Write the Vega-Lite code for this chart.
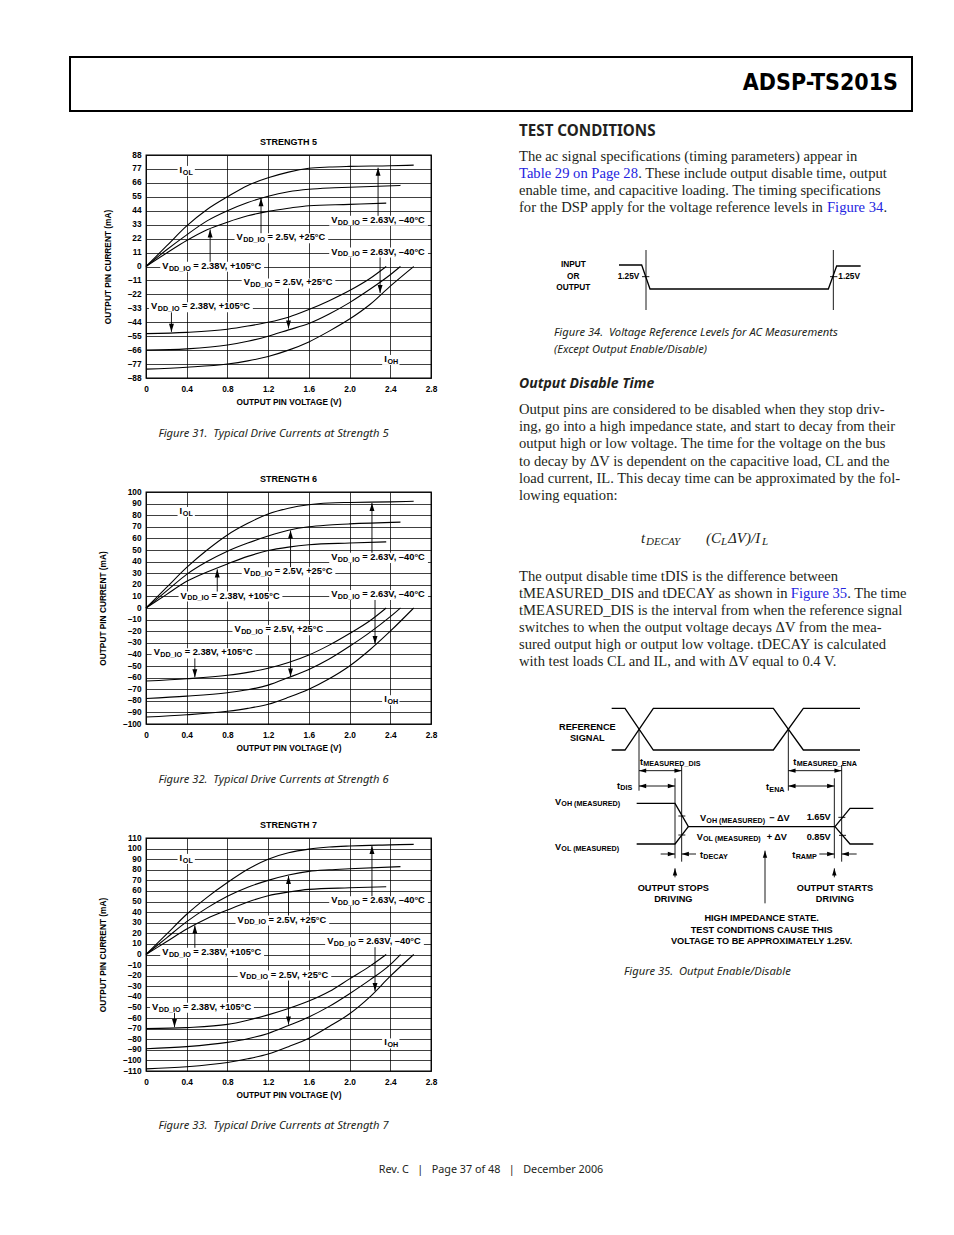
{
"$schema": "https://vega.github.io/schema/vega-lite/v6.json",
"padding": 0,
"background": "#ffffff",
"spacing": 0,
"bounds": "full",
"config": {
  "view": {"stroke": null},
  "font": "Liberation Sans",
  "axis": {"domain": false, "ticks": false, "tickCount": 40, "gridColor": "#000", "gridWidth": 0.75, "gridOpacity": 1, "labelFontSize": 8.3, "labelFontWeight": "bold", "labelColor": "#000", "titleFontSize": 8.3, "titleFontWeight": "bold", "titleColor": "#000", "labelFlush": false, "labelOverlap": false},
  "axisX": {"grid": true, "labelPadding": 6, "titlePadding": 5},
  "axisY": {"grid": true, "labelPadding": 5, "titlePadding": 15},
  "title": {"fontSize": 9, "fontWeight": "bold", "color": "#000", "offset": 3},
  "text": {"color": "#231f20"}
},
"datasets": {
  "c1": [
    {"s":"a","v":0,"i":0},{"s":"a","v":0.2,"i":16},{"s":"a","v":0.4,"i":32},{"s":"a","v":0.6,"i":45},{"s":"a","v":0.8,"i":55},{"s":"a","v":1.0,"i":64},{"s":"a","v":1.2,"i":70},{"s":"a","v":1.4,"i":74.5},{"s":"a","v":1.6,"i":77.5},{"s":"a","v":1.8,"i":78.5},{"s":"a","v":2.0,"i":79},{"s":"a","v":2.4,"i":79.5},{"s":"a","v":2.63,"i":80},
    {"s":"b","v":0,"i":0},{"s":"b","v":0.2,"i":13},{"s":"b","v":0.4,"i":25},{"s":"b","v":0.6,"i":36},{"s":"b","v":0.8,"i":44},{"s":"b","v":1.0,"i":50.5},{"s":"b","v":1.2,"i":55.5},{"s":"b","v":1.4,"i":59},{"s":"b","v":1.6,"i":61},{"s":"b","v":1.8,"i":62},{"s":"b","v":2.0,"i":62.5},{"s":"b","v":2.5,"i":64},
    {"s":"c","v":0,"i":0},{"s":"c","v":0.2,"i":10.5},{"s":"c","v":0.4,"i":20.5},{"s":"c","v":0.6,"i":29},{"s":"c","v":0.8,"i":35},{"s":"c","v":1.0,"i":40},{"s":"c","v":1.2,"i":43.5},{"s":"c","v":1.4,"i":46},{"s":"c","v":1.6,"i":48},{"s":"c","v":2.0,"i":49},{"s":"c","v":2.36,"i":50},
    {"s":"d","v":0,"i":-53},{"s":"d","v":0.4,"i":-52},{"s":"d","v":0.8,"i":-49.5},{"s":"d","v":1.0,"i":-47},{"s":"d","v":1.2,"i":-44},{"s":"d","v":1.4,"i":-40},{"s":"d","v":1.6,"i":-34},{"s":"d","v":1.8,"i":-27},{"s":"d","v":2.0,"i":-19},{"s":"d","v":2.2,"i":-9.5},{"s":"d","v":2.36,"i":0},
    {"s":"e","v":0,"i":-66},{"s":"e","v":0.4,"i":-65},{"s":"e","v":0.8,"i":-62},{"s":"e","v":1.0,"i":-59},{"s":"e","v":1.2,"i":-55},{"s":"e","v":1.4,"i":-50},{"s":"e","v":1.6,"i":-45},{"s":"e","v":1.8,"i":-37.5},{"s":"e","v":2.0,"i":-28.5},{"s":"e","v":2.2,"i":-18},{"s":"e","v":2.4,"i":-6.5},{"s":"e","v":2.5,"i":0},
    {"s":"f","v":0,"i":-81},{"s":"f","v":0.4,"i":-79.5},{"s":"f","v":0.8,"i":-77},{"s":"f","v":1.0,"i":-74.5},{"s":"f","v":1.2,"i":-71},{"s":"f","v":1.4,"i":-66},{"s":"f","v":1.6,"i":-59.5},{"s":"f","v":1.8,"i":-51},{"s":"f","v":2.0,"i":-41.5},{"s":"f","v":2.2,"i":-30},{"s":"f","v":2.4,"i":-15.5},{"s":"f","v":2.63,"i":0}
  ],
  "l1": [
    {"k":"V","sub":"DD_IO","tail":"= 2.63V, –40°C","v":1.82,"i":36.8,"b1":1.8,"b2":2.77,"lo":32.1,"hi":40.0},
    {"k":"V","sub":"DD_IO","tail":"= 2.5V, +25°C","v":0.89,"i":23.1,"b1":0.87,"b2":1.79,"lo":18.4,"hi":26.3},
    {"k":"V","sub":"DD_IO","tail":"= 2.63V, –40°C","v":1.82,"i":11.8,"b1":1.8,"b2":2.77,"lo":7.1,"hi":15.0},
    {"k":"V","sub":"DD_IO","tail":"= 2.38V, +105°C","v":0.16,"i":0.5,"b1":0.14,"b2":1.16,"lo":-4.2,"hi":3.7},
    {"k":"V","sub":"DD_IO","tail":"= 2.5V, +25°C","v":0.96,"i":-12.6,"b1":0.94,"b2":1.86,"lo":-17.3,"hi":-9.4},
    {"k":"V","sub":"DD_IO","tail":"= 2.38V, +105°C","v":0.05,"i":-31.5,"b1":0.03,"b2":1.05,"lo":-36.2,"hi":-28.3},
    {"k":"I","sub":"OL","tail":"","v":0.33,"i":76.2,"b1":0.31,"b2":0.48,"lo":71.5,"hi":79.4},
    {"k":"I","sub":"OH","tail":"","v":2.34,"i":-73,"b1":2.32,"b2":2.49,"lo":-77.7,"hi":-69.8}
  ],
  "a1": [
    {"v":2.28,"i":40.0,"i2":78,"dir":"up"},{"v":1.13,"i":26.3,"i2":54,"dir":"up"},{"v":0.63,"i":3.7,"i2":29.3,"dir":"up"},
    {"v":2.3,"i":7.1,"i2":-21,"dir":"down"},{"v":1.4,"i":-17.3,"i2":-49,"dir":"down"},{"v":0.25,"i":-36.2,"i2":-51.6,"dir":"down"}
  ],
  "c2": [
    {"s":"a","v":0,"i":0},{"s":"a","v":0.2,"i":17.5},{"s":"a","v":0.4,"i":35},{"s":"a","v":0.6,"i":50},{"s":"a","v":0.8,"i":63},{"s":"a","v":1.0,"i":73},{"s":"a","v":1.2,"i":81},{"s":"a","v":1.4,"i":86},{"s":"a","v":1.6,"i":89},{"s":"a","v":1.8,"i":90.5},{"s":"a","v":2.0,"i":91},{"s":"a","v":2.4,"i":91.5},{"s":"a","v":2.63,"i":92},
    {"s":"b","v":0,"i":0},{"s":"b","v":0.2,"i":14.5},{"s":"b","v":0.4,"i":29},{"s":"b","v":0.6,"i":40},{"s":"b","v":0.8,"i":49},{"s":"b","v":1.0,"i":56},{"s":"b","v":1.2,"i":62},{"s":"b","v":1.4,"i":67},{"s":"b","v":1.6,"i":70},{"s":"b","v":1.8,"i":71.5},{"s":"b","v":2.0,"i":72.5},{"s":"b","v":2.5,"i":74},
    {"s":"c","v":0,"i":0},{"s":"c","v":0.2,"i":11.5},{"s":"c","v":0.4,"i":23},{"s":"c","v":0.6,"i":31},{"s":"c","v":0.8,"i":38},{"s":"c","v":1.0,"i":44.5},{"s":"c","v":1.2,"i":49.5},{"s":"c","v":1.4,"i":52.5},{"s":"c","v":1.6,"i":54.5},{"s":"c","v":2.0,"i":56},{"s":"c","v":2.36,"i":57},
    {"s":"d","v":0,"i":-63},{"s":"d","v":0.4,"i":-61},{"s":"d","v":0.8,"i":-58},{"s":"d","v":1.0,"i":-55.5},{"s":"d","v":1.2,"i":-52},{"s":"d","v":1.4,"i":-47},{"s":"d","v":1.6,"i":-40.5},{"s":"d","v":1.8,"i":-32},{"s":"d","v":2.0,"i":-22},{"s":"d","v":2.2,"i":-11},{"s":"d","v":2.36,"i":0},
    {"s":"e","v":0,"i":-78},{"s":"e","v":0.4,"i":-76},{"s":"e","v":0.8,"i":-73},{"s":"e","v":1.0,"i":-70.5},{"s":"e","v":1.2,"i":-66.5},{"s":"e","v":1.4,"i":-60},{"s":"e","v":1.6,"i":-53},{"s":"e","v":1.8,"i":-44},{"s":"e","v":2.0,"i":-33},{"s":"e","v":2.2,"i":-21},{"s":"e","v":2.4,"i":-7.5},{"s":"e","v":2.5,"i":0},
    {"s":"f","v":0,"i":-94},{"s":"f","v":0.4,"i":-92},{"s":"f","v":0.8,"i":-89},{"s":"f","v":1.0,"i":-86.5},{"s":"f","v":1.2,"i":-83},{"s":"f","v":1.4,"i":-77},{"s":"f","v":1.6,"i":-70},{"s":"f","v":1.8,"i":-61},{"s":"f","v":2.0,"i":-50},{"s":"f","v":2.2,"i":-36},{"s":"f","v":2.4,"i":-20},{"s":"f","v":2.63,"i":0}
  ],
  "l2": [
    {"k":"V","sub":"DD_IO","tail":"= 2.63V, –40°C","v":1.82,"i":44.1,"b1":1.8,"b2":2.77,"lo":38.9,"hi":47.6},
    {"k":"V","sub":"DD_IO","tail":"= 2.5V, +25°C","v":0.96,"i":31.7,"b1":0.94,"b2":1.86,"lo":26.5,"hi":35.2},
    {"k":"V","sub":"DD_IO","tail":"= 2.38V, +105°C","v":0.34,"i":10.7,"b1":0.32,"b2":1.34,"lo":5.5,"hi":14.2},
    {"k":"V","sub":"DD_IO","tail":"= 2.63V, –40°C","v":1.82,"i":12.1,"b1":1.8,"b2":2.77,"lo":6.9,"hi":15.6},
    {"k":"V","sub":"DD_IO","tail":"= 2.5V, +25°C","v":0.87,"i":-18.2,"b1":0.85,"b2":1.77,"lo":-23.4,"hi":-14.7},
    {"k":"V","sub":"DD_IO","tail":"= 2.38V, +105°C","v":0.075,"i":-38.3,"b1":0.055,"b2":1.075,"lo":-43.5,"hi":-34.8},
    {"k":"I","sub":"OL","tail":"","v":0.33,"i":83.6,"b1":0.31,"b2":0.48,"lo":78.4,"hi":87.1},
    {"k":"I","sub":"OH","tail":"","v":2.34,"i":-78.7,"b1":2.32,"b2":2.49,"lo":-83.9,"hi":-75.2}
  ],
  "a2": [
    {"v":2.22,"i":47.6,"i2":90.5,"dir":"up"},{"v":1.42,"i":35.2,"i2":66.8,"dir":"up"},{"v":0.7,"i":14.2,"i2":33.3,"dir":"up"},
    {"v":2.25,"i":6.9,"i2":-31,"dir":"down"},{"v":1.42,"i":-23.4,"i2":-59,"dir":"down"},{"v":0.48,"i":-43.5,"i2":-59.8,"dir":"down"}
  ],
  "c3": [
    {"s":"a","v":0,"i":0},{"s":"a","v":0.2,"i":19},{"s":"a","v":0.4,"i":38},{"s":"a","v":0.6,"i":54},{"s":"a","v":0.8,"i":68},{"s":"a","v":1.0,"i":80.5},{"s":"a","v":1.2,"i":90},{"s":"a","v":1.4,"i":96},{"s":"a","v":1.6,"i":99.5},{"s":"a","v":1.8,"i":101.5},{"s":"a","v":2.0,"i":102.5},{"s":"a","v":2.4,"i":103.5},{"s":"a","v":2.63,"i":104},
    {"s":"b","v":0,"i":0},{"s":"b","v":0.2,"i":15.5},{"s":"b","v":0.4,"i":31},{"s":"b","v":0.6,"i":44},{"s":"b","v":0.8,"i":55},{"s":"b","v":1.0,"i":63.5},{"s":"b","v":1.2,"i":70},{"s":"b","v":1.4,"i":75},{"s":"b","v":1.6,"i":78.5},{"s":"b","v":1.8,"i":80},{"s":"b","v":2.0,"i":81},{"s":"b","v":2.5,"i":83},
    {"s":"c","v":0,"i":0},{"s":"c","v":0.2,"i":12},{"s":"c","v":0.4,"i":24},{"s":"c","v":0.6,"i":34},{"s":"c","v":0.8,"i":42},{"s":"c","v":1.0,"i":49.5},{"s":"c","v":1.2,"i":55.5},{"s":"c","v":1.4,"i":59},{"s":"c","v":1.6,"i":61.5},{"s":"c","v":2.0,"i":63},{"s":"c","v":2.36,"i":64},
    {"s":"d","v":0,"i":-70},{"s":"d","v":0.4,"i":-69},{"s":"d","v":0.8,"i":-66},{"s":"d","v":1.0,"i":-62},{"s":"d","v":1.2,"i":-57},{"s":"d","v":1.4,"i":-51},{"s":"d","v":1.6,"i":-44},{"s":"d","v":1.8,"i":-35},{"s":"d","v":2.0,"i":-23},{"s":"d","v":2.2,"i":-11},{"s":"d","v":2.36,"i":0},
    {"s":"e","v":0,"i":-89},{"s":"e","v":0.4,"i":-87},{"s":"e","v":0.8,"i":-83},{"s":"e","v":1.0,"i":-79.5},{"s":"e","v":1.2,"i":-74.5},{"s":"e","v":1.4,"i":-67},{"s":"e","v":1.6,"i":-59},{"s":"e","v":1.8,"i":-49},{"s":"e","v":2.0,"i":-37},{"s":"e","v":2.2,"i":-24},{"s":"e","v":2.4,"i":-9.5},{"s":"e","v":2.5,"i":0},
    {"s":"f","v":0,"i":-108},{"s":"f","v":0.4,"i":-106},{"s":"f","v":0.8,"i":-102},{"s":"f","v":1.0,"i":-98.5},{"s":"f","v":1.2,"i":-94},{"s":"f","v":1.4,"i":-87},{"s":"f","v":1.6,"i":-79},{"s":"f","v":1.8,"i":-68},{"s":"f","v":2.0,"i":-56},{"s":"f","v":2.2,"i":-40},{"s":"f","v":2.4,"i":-20.5},{"s":"f","v":2.63,"i":0}
  ],
  "l3": [
    {"k":"V","sub":"DD_IO","tail":"= 2.63V, –40°C","v":1.82,"i":51.3,"b1":1.8,"b2":2.77,"lo":45.6,"hi":55.1},
    {"k":"V","sub":"DD_IO","tail":"= 2.5V, +25°C","v":0.9,"i":33,"b1":0.88,"b2":1.8,"lo":27.3,"hi":36.8},
    {"k":"V","sub":"DD_IO","tail":"= 2.63V, –40°C","v":1.78,"i":12.6,"b1":1.76,"b2":2.73,"lo":6.9,"hi":16.4},
    {"k":"V","sub":"DD_IO","tail":"= 2.38V, +105°C","v":0.16,"i":2.5,"b1":0.14,"b2":1.16,"lo":-3.2,"hi":6.3},
    {"k":"V","sub":"DD_IO","tail":"= 2.5V, +25°C","v":0.92,"i":-18.9,"b1":0.9,"b2":1.82,"lo":-24.6,"hi":-15.1},
    {"k":"V","sub":"DD_IO","tail":"= 2.38V, +105°C","v":0.06,"i":-49.4,"b1":0.04,"b2":1.06,"lo":-55.1,"hi":-45.6},
    {"k":"I","sub":"OL","tail":"","v":0.33,"i":91.2,"b1":0.31,"b2":0.48,"lo":85.5,"hi":95},
    {"k":"I","sub":"OH","tail":"","v":2.34,"i":-83,"b1":2.32,"b2":2.49,"lo":-88.7,"hi":-79.2}
  ],
  "a3": [
    {"v":2.22,"i":55.1,"i2":102.5,"dir":"up"},{"v":1.4,"i":36.8,"i2":74.2,"dir":"up"},{"v":0.48,"i":6.3,"i2":27.5,"dir":"up"},
    {"v":2.25,"i":6.9,"i2":-34.5,"dir":"down"},{"v":1.4,"i":-24.6,"i2":-66.2,"dir":"down"},{"v":0.28,"i":-55.1,"i2":-68.6,"dir":"down"}
  ]
},
"vconcat": [
  {"width": 954, "height": 56, "data": {"values": []}, "mark": "rect", "encoding": {}},
  {"spacing": 0, "bounds": "full", "hconcat": [
    {"width": 69, "height": 54, "data": {"values": []}, "mark": "rect", "encoding": {}},
    {"width": 842, "height": 54, "view": {"stroke": "#000", "strokeWidth": 2},
     "data": {"values": [{"t": "ADSP-TS201S"}]},
     "mark": {"type": "text", "align": "right", "baseline": "middle", "font": "'DejaVu Sans Condensed', 'Liberation Sans Narrow', sans-serif", "fontWeight": "bold", "fontSize": 23, "dx": -14, "dy": -1, "color": "#000"},
     "encoding": {"x": {"value": "width"}, "text": {"field": "t"}}}
  ]},
  {"spacing": 0, "bounds": "full", "hconcat": [
    {"width": 97, "height": 1, "data": {"values": []}, "mark": "rect", "encoding": {}},
    {"spacing": 0, "bounds": "flush", "vconcat": [
      {"width": 373, "height": 43, "data": {"values": []}, "mark": "rect", "encoding": {}},
      {"width": 285, "height": 223, "view": {"stroke": "#000", "strokeWidth": 1.3}, "title": {"text": "STRENGTH 5"},
       "layer": [
        {"data": {"name": "c1"}, "mark": {"type": "line", "color": "#000", "strokeWidth": 1.1, "interpolate": "monotone"},
         "encoding": {
           "x": {"field": "v", "type": "quantitative", "scale": {"domain": [0, 2.8], "nice": false, "zero": false}, "axis": {"values": [0,0.4,0.8,1.2,1.6,2,2.4,2.8], "title": "OUTPUT PIN VOLTAGE (V)", "labelExpr": "datum.value == 0 ? '0' : format(datum.value, '.1f')"}},
           "y": {"field": "i", "type": "quantitative", "scale": {"domain": [-88, 88], "nice": false, "zero": false}, "axis": {"values": [-88,-77,-66,-55,-44,-33,-22,-11,0,11,22,33,44,55,66,77,88], "title": "OUTPUT PIN CURRENT (mA)", "labelExpr": "replace(datum.label, '−', '–')"}},
           "detail": {"field": "s"}}},
        {"data": {"name": "l1"}, "mark": {"type": "rect", "fill": "#fff"},
         "encoding": {"x": {"field": "b1", "type": "quantitative", "scale": {"domain": [0, 2.8], "nice": false, "zero": false}}, "x2": {"field": "b2"}, "y": {"field": "lo", "type": "quantitative", "scale": {"domain": [-88, 88], "nice": false, "zero": false}}, "y2": {"field": "hi"}}},
        {"data": {"name": "l1"}, "mark": {"type": "text", "align": "left", "baseline": "middle", "fontSize": 9.3, "fontWeight": "bold", "color": "#000"},
         "encoding": {"x": {"field": "v", "type": "quantitative", "scale": {"domain": [0, 2.8], "nice": false, "zero": false}}, "y": {"field": "i", "type": "quantitative", "scale": {"domain": [-88, 88], "nice": false, "zero": false}}, "text": {"field": "k"}}},
        {"data": {"name": "l1"}, "transform": [{"filter": "datum.k == 'V'"}], "mark": {"type": "text", "align": "left", "baseline": "middle", "fontSize": 7.2, "fontWeight": "bold", "dx": 6.6, "dy": 2.8, "color": "#000"},
         "encoding": {"x": {"field": "v", "type": "quantitative", "scale": {"domain": [0, 2.8], "nice": false, "zero": false}}, "y": {"field": "i", "type": "quantitative", "scale": {"domain": [-88, 88], "nice": false, "zero": false}}, "text": {"field": "sub"}}},
        {"data": {"name": "l1"}, "transform": [{"filter": "datum.k == 'I'"}], "mark": {"type": "text", "align": "left", "baseline": "middle", "fontSize": 7.2, "fontWeight": "bold", "dx": 3.2, "dy": 2.8, "color": "#000"},
         "encoding": {"x": {"field": "v", "type": "quantitative", "scale": {"domain": [0, 2.8], "nice": false, "zero": false}}, "y": {"field": "i", "type": "quantitative", "scale": {"domain": [-88, 88], "nice": false, "zero": false}}, "text": {"field": "sub"}}},
        {"data": {"name": "l1"}, "transform": [{"filter": "datum.k == 'V'"}], "mark": {"type": "text", "align": "left", "baseline": "middle", "fontSize": 9.3, "fontWeight": "bold", "dx": 31, "color": "#000"},
         "encoding": {"x": {"field": "v", "type": "quantitative", "scale": {"domain": [0, 2.8], "nice": false, "zero": false}}, "y": {"field": "i", "type": "quantitative", "scale": {"domain": [-88, 88], "nice": false, "zero": false}}, "text": {"field": "tail"}}},
        {"data": {"name": "a1"}, "mark": {"type": "rule", "color": "#000", "strokeWidth": 0.9},
         "encoding": {"x": {"field": "v", "type": "quantitative", "scale": {"domain": [0, 2.8], "nice": false, "zero": false}}, "y": {"field": "i", "type": "quantitative", "scale": {"domain": [-88, 88], "nice": false, "zero": false}}, "y2": {"field": "i2"}}},
        {"data": {"name": "a1"}, "mark": {"type": "point", "filled": true, "opacity": 1, "color": "#000", "size": 20},
         "encoding": {"x": {"field": "v", "type": "quantitative", "scale": {"domain": [0, 2.8], "nice": false, "zero": false}}, "y": {"field": "i2", "type": "quantitative", "scale": {"domain": [-88, 88], "nice": false, "zero": false}},
           "shape": {"field": "dir", "type": "nominal", "legend": null, "scale": {"domain": ["up","down","left","right"], "range": ["M0,0L-1.1,3.6L1.1,3.6Z","M0,0L-1.1,-3.6L1.1,-3.6Z","M0,0L3.6,-1.1L3.6,1.1Z","M0,0L-3.6,-1.1L-3.6,1.1Z"]}}}}
       ]},
      {"width": 255, "height": 112, "data": {"values": [{"t": "Figure 31.\u00a0\u00a0Typical Drive Currents at Strength 5"}]}, "mark": {"type": "text", "font": "Noto Sans", "fontStyle": "italic", "fontSize": 11.2, "color": "#231f20"}, "encoding": {"text": {"field": "t"}}},
      {"width": 1, "height": 2, "data": {"values": []}, "mark": "rect", "encoding": {}},
      {"width": 285, "height": 232, "view": {"stroke": "#000", "strokeWidth": 1.3}, "title": {"text": "STRENGTH 6"},
       "layer": [
        {"data": {"name": "c2"}, "mark": {"type": "line", "color": "#000", "strokeWidth": 1.1, "interpolate": "monotone"},
         "encoding": {
           "x": {"field": "v", "type": "quantitative", "scale": {"domain": [0, 2.8], "nice": false, "zero": false}, "axis": {"values": [0,0.4,0.8,1.2,1.6,2,2.4,2.8], "title": "OUTPUT PIN VOLTAGE (V)", "labelExpr": "datum.value == 0 ? '0' : format(datum.value, '.1f')"}},
           "y": {"field": "i", "type": "quantitative", "scale": {"domain": [-100, 100], "nice": false, "zero": false}, "axis": {"values": [-100,-90,-80,-70,-60,-50,-40,-30,-20,-10,0,10,20,30,40,50,60,70,80,90,100], "title": "OUTPUT PIN CURRENT (mA)", "labelExpr": "replace(datum.label, '−', '–')"}},
           "detail": {"field": "s"}}},
        {"data": {"name": "l2"}, "mark": {"type": "rect", "fill": "#fff"},
         "encoding": {"x": {"field": "b1", "type": "quantitative", "scale": {"domain": [0, 2.8], "nice": false, "zero": false}}, "x2": {"field": "b2"}, "y": {"field": "lo", "type": "quantitative", "scale": {"domain": [-100, 100], "nice": false, "zero": false}}, "y2": {"field": "hi"}}},
        {"data": {"name": "l2"}, "mark": {"type": "text", "align": "left", "baseline": "middle", "fontSize": 9.3, "fontWeight": "bold", "color": "#000"},
         "encoding": {"x": {"field": "v", "type": "quantitative", "scale": {"domain": [0, 2.8], "nice": false, "zero": false}}, "y": {"field": "i", "type": "quantitative", "scale": {"domain": [-100, 100], "nice": false, "zero": false}}, "text": {"field": "k"}}},
        {"data": {"name": "l2"}, "transform": [{"filter": "datum.k == 'V'"}], "mark": {"type": "text", "align": "left", "baseline": "middle", "fontSize": 7.2, "fontWeight": "bold", "dx": 6.6, "dy": 2.8, "color": "#000"},
         "encoding": {"x": {"field": "v", "type": "quantitative", "scale": {"domain": [0, 2.8], "nice": false, "zero": false}}, "y": {"field": "i", "type": "quantitative", "scale": {"domain": [-100, 100], "nice": false, "zero": false}}, "text": {"field": "sub"}}},
        {"data": {"name": "l2"}, "transform": [{"filter": "datum.k == 'I'"}], "mark": {"type": "text", "align": "left", "baseline": "middle", "fontSize": 7.2, "fontWeight": "bold", "dx": 3.2, "dy": 2.8, "color": "#000"},
         "encoding": {"x": {"field": "v", "type": "quantitative", "scale": {"domain": [0, 2.8], "nice": false, "zero": false}}, "y": {"field": "i", "type": "quantitative", "scale": {"domain": [-100, 100], "nice": false, "zero": false}}, "text": {"field": "sub"}}},
        {"data": {"name": "l2"}, "transform": [{"filter": "datum.k == 'V'"}], "mark": {"type": "text", "align": "left", "baseline": "middle", "fontSize": 9.3, "fontWeight": "bold", "dx": 31, "color": "#000"},
         "encoding": {"x": {"field": "v", "type": "quantitative", "scale": {"domain": [0, 2.8], "nice": false, "zero": false}}, "y": {"field": "i", "type": "quantitative", "scale": {"domain": [-100, 100], "nice": false, "zero": false}}, "text": {"field": "tail"}}},
        {"data": {"name": "a2"}, "mark": {"type": "rule", "color": "#000", "strokeWidth": 0.9},
         "encoding": {"x": {"field": "v", "type": "quantitative", "scale": {"domain": [0, 2.8], "nice": false, "zero": false}}, "y": {"field": "i", "type": "quantitative", "scale": {"domain": [-100, 100], "nice": false, "zero": false}}, "y2": {"field": "i2"}}},
        {"data": {"name": "a2"}, "mark": {"type": "point", "filled": true, "opacity": 1, "color": "#000", "size": 20},
         "encoding": {"x": {"field": "v", "type": "quantitative", "scale": {"domain": [0, 2.8], "nice": false, "zero": false}}, "y": {"field": "i2", "type": "quantitative", "scale": {"domain": [-100, 100], "nice": false, "zero": false}},
           "shape": {"field": "dir", "type": "nominal", "legend": null, "scale": {"domain": ["up","down","left","right"], "range": ["M0,0L-1.1,3.6L1.1,3.6Z","M0,0L-1.1,-3.6L1.1,-3.6Z","M0,0L3.6,-1.1L3.6,1.1Z","M0,0L-3.6,-1.1L-3.6,1.1Z"]}}}}
       ]},
      {"width": 255, "height": 112, "data": {"values": [{"t": "Figure 32.\u00a0\u00a0Typical Drive Currents at Strength 6"}]}, "mark": {"type": "text", "font": "Noto Sans", "fontStyle": "italic", "fontSize": 11.2, "color": "#231f20"}, "encoding": {"text": {"field": "t"}}},
      {"width": 1, "height": 2, "data": {"values": []}, "mark": "rect", "encoding": {}},
      {"width": 285, "height": 233, "view": {"stroke": "#000", "strokeWidth": 1.3}, "title": {"text": "STRENGTH 7"},
       "layer": [
        {"data": {"name": "c3"}, "mark": {"type": "line", "color": "#000", "strokeWidth": 1.1, "interpolate": "monotone"},
         "encoding": {
           "x": {"field": "v", "type": "quantitative", "scale": {"domain": [0, 2.8], "nice": false, "zero": false}, "axis": {"values": [0,0.4,0.8,1.2,1.6,2,2.4,2.8], "title": "OUTPUT PIN VOLTAGE (V)", "labelExpr": "datum.value == 0 ? '0' : format(datum.value, '.1f')"}},
           "y": {"field": "i", "type": "quantitative", "scale": {"domain": [-110, 110], "nice": false, "zero": false}, "axis": {"values": [-110,-100,-90,-80,-70,-60,-50,-40,-30,-20,-10,0,10,20,30,40,50,60,70,80,90,100,110], "title": "OUTPUT PIN CURRENT (mA)", "labelExpr": "replace(datum.label, '−', '–')"}},
           "detail": {"field": "s"}}},
        {"data": {"name": "l3"}, "mark": {"type": "rect", "fill": "#fff"},
         "encoding": {"x": {"field": "b1", "type": "quantitative", "scale": {"domain": [0, 2.8], "nice": false, "zero": false}}, "x2": {"field": "b2"}, "y": {"field": "lo", "type": "quantitative", "scale": {"domain": [-110, 110], "nice": false, "zero": false}}, "y2": {"field": "hi"}}},
        {"data": {"name": "l3"}, "mark": {"type": "text", "align": "left", "baseline": "middle", "fontSize": 9.3, "fontWeight": "bold", "color": "#000"},
         "encoding": {"x": {"field": "v", "type": "quantitative", "scale": {"domain": [0, 2.8], "nice": false, "zero": false}}, "y": {"field": "i", "type": "quantitative", "scale": {"domain": [-110, 110], "nice": false, "zero": false}}, "text": {"field": "k"}}},
        {"data": {"name": "l3"}, "transform": [{"filter": "datum.k == 'V'"}], "mark": {"type": "text", "align": "left", "baseline": "middle", "fontSize": 7.2, "fontWeight": "bold", "dx": 6.6, "dy": 2.8, "color": "#000"},
         "encoding": {"x": {"field": "v", "type": "quantitative", "scale": {"domain": [0, 2.8], "nice": false, "zero": false}}, "y": {"field": "i", "type": "quantitative", "scale": {"domain": [-110, 110], "nice": false, "zero": false}}, "text": {"field": "sub"}}},
        {"data": {"name": "l3"}, "transform": [{"filter": "datum.k == 'I'"}], "mark": {"type": "text", "align": "left", "baseline": "middle", "fontSize": 7.2, "fontWeight": "bold", "dx": 3.2, "dy": 2.8, "color": "#000"},
         "encoding": {"x": {"field": "v", "type": "quantitative", "scale": {"domain": [0, 2.8], "nice": false, "zero": false}}, "y": {"field": "i", "type": "quantitative", "scale": {"domain": [-110, 110], "nice": false, "zero": false}}, "text": {"field": "sub"}}},
        {"data": {"name": "l3"}, "transform": [{"filter": "datum.k == 'V'"}], "mark": {"type": "text", "align": "left", "baseline": "middle", "fontSize": 9.3, "fontWeight": "bold", "dx": 31, "color": "#000"},
         "encoding": {"x": {"field": "v", "type": "quantitative", "scale": {"domain": [0, 2.8], "nice": false, "zero": false}}, "y": {"field": "i", "type": "quantitative", "scale": {"domain": [-110, 110], "nice": false, "zero": false}}, "text": {"field": "tail"}}},
        {"data": {"name": "a3"}, "mark": {"type": "rule", "color": "#000", "strokeWidth": 0.9},
         "encoding": {"x": {"field": "v", "type": "quantitative", "scale": {"domain": [0, 2.8], "nice": false, "zero": false}}, "y": {"field": "i", "type": "quantitative", "scale": {"domain": [-110, 110], "nice": false, "zero": false}}, "y2": {"field": "i2"}}},
        {"data": {"name": "a3"}, "mark": {"type": "point", "filled": true, "opacity": 1, "color": "#000", "size": 20},
         "encoding": {"x": {"field": "v", "type": "quantitative", "scale": {"domain": [0, 2.8], "nice": false, "zero": false}}, "y": {"field": "i2", "type": "quantitative", "scale": {"domain": [-110, 110], "nice": false, "zero": false}},
           "shape": {"field": "dir", "type": "nominal", "legend": null, "scale": {"domain": ["up","down","left","right"], "range": ["M0,0L-1.1,3.6L1.1,3.6Z","M0,0L-1.1,-3.6L1.1,-3.6Z","M0,0L3.6,-1.1L3.6,1.1Z","M0,0L-3.6,-1.1L-3.6,1.1Z"]}}}}
       ]},
      {"width": 1, "height": 45, "data": {"values": []}, "mark": "rect", "encoding": {}},
      {"width": 255, "height": 20, "data": {"values": [{"t": "Figure 33.\u00a0\u00a0Typical Drive Currents at Strength 7"}]}, "mark": {"type": "text", "font": "Noto Sans", "fontStyle": "italic", "fontSize": 11.2, "color": "#231f20"}, "encoding": {"text": {"field": "t"}}}
    ]},
    {"spacing": 0, "bounds": "flush", "vconcat": [
      {"width": 379, "height": 2, "data": {"values": []}, "mark": "rect", "encoding": {}},
      {"width": 379, "height": 34, "data": {"values": [{"t": "TEST CONDITIONS"}]}, "mark": {"type": "text", "align": "left", "baseline": "middle", "font": "Noto Sans", "fontWeight": "bold", "fontSize": 15.2, "color": "#231f20"}, "encoding": {"x": {"value": 0}, "text": {"field": "t"}}},
      {"width": 379, "height": 69,
       "data": {"values": [
         {"line": 1, "seg": 1, "kind": "text", "text": "The ac signal specifications (timing parameters) appear in"},
         {"line": 2, "seg": 1, "kind": "link", "text": "Table 29 on Page 28"},
         {"line": 2, "seg": 2, "kind": "text", "text": ". These include output disable time, output"},
         {"line": 3, "seg": 1, "kind": "text", "text": "enable time, and capacitive loading. The timing specifications"},
         {"line": 4, "seg": 1, "kind": "text", "text": "for the DSP apply for the voltage reference levels in"},
         {"line": 4, "seg": 3, "kind": "link", "text": "Figure 34"},
         {"line": 4, "seg": 4, "kind": "text", "text": "."}
       ]},
       "encoding": {"x": {"value": 0}, "y": {"field": "line", "type": "ordinal", "axis": null}, "text": {"field": "text"},
         "color": {"field": "kind", "type": "nominal", "legend": null, "scale": {"domain": ["text", "link"], "range": ["#231f20", "#2424e0"]}}},
       "layer": [
         {"transform": [{"filter": "datum.seg == 1"}], "mark": {"type": "text", "align": "left", "baseline": "middle", "font": "Liberation Serif", "fontSize": 14.6}},
         {"transform": [{"filter": "datum.seg == 2"}], "mark": {"type": "text", "align": "left", "baseline": "middle", "font": "Liberation Serif", "fontSize": 14.6, "dx": 119.2}},
         {"transform": [{"filter": "datum.seg == 3"}], "mark": {"type": "text", "align": "left", "baseline": "middle", "font": "Liberation Serif", "fontSize": 14.6, "dx": 308}},
         {"transform": [{"filter": "datum.seg == 4"}], "mark": {"type": "text", "align": "left", "baseline": "middle", "font": "Liberation Serif", "fontSize": 14.6, "dx": 364.4}}
       ]},
      {"width": 379, "height": 33, "data": {"values": []}, "mark": "rect", "encoding": {}},
      {"width": 379, "height": 60,
       "layer": [
        {"data": {"values": [{"x":237,"y":45},{"x":305,"y":45},{"x":330,"y":117},{"x":865,"y":117},{"x":890,"y":48},{"x":962,"y":48}]},
         "mark": {"type": "line", "color": "#000", "strokeWidth": 1.3},
         "encoding": {"x": {"field": "x", "type": "quantitative", "axis": null, "scale": {"domain": [-63, 1074], "nice": false, "zero": false}}, "y": {"field": "y", "type": "quantitative", "axis": null, "scale": {"domain": [0, 180], "nice": false, "zero": false, "reverse": true}}}},
        {"data": {"values": [{"x":318,"y":0,"y2":180},{"x":880,"y":0,"y2":180}]},
         "mark": {"type": "rule", "color": "#000", "strokeWidth": 0.9},
         "encoding": {"x": {"field": "x", "type": "quantitative", "axis": null, "scale": {"domain": [-63, 1074], "nice": false, "zero": false}}, "y": {"field": "y", "type": "quantitative", "axis": null, "scale": {"domain": [0, 180], "nice": false, "zero": false, "reverse": true}}, "y2": {"field": "y2"}}},
        {"data": {"values": [{"x":306,"x2":328,"y":80},{"x":870,"x2":892,"y":80}]},
         "mark": {"type": "rule", "color": "#000", "strokeWidth": 0.9},
         "encoding": {"x": {"field": "x", "type": "quantitative", "axis": null, "scale": {"domain": [-63, 1074], "nice": false, "zero": false}}, "x2": {"field": "x2"}, "y": {"field": "y", "type": "quantitative", "axis": null, "scale": {"domain": [0, 180], "nice": false, "zero": false, "reverse": true}}}},
        {"data": {"values": [{"x":100,"y":45,"t":"INPUT"},{"x":100,"y":80,"t":"OR"},{"x":100,"y":115,"t":"OUTPUT"}]},
         "mark": {"type": "text", "align": "center", "baseline": "middle", "fontSize": 8.3, "fontWeight": "bold", "color": "#000"},
         "encoding": {"x": {"field": "x", "type": "quantitative", "axis": null, "scale": {"domain": [-63, 1074], "nice": false, "zero": false}}, "y": {"field": "y", "type": "quantitative", "axis": null, "scale": {"domain": [0, 180], "nice": false, "zero": false, "reverse": true}}, "text": {"field": "t"}}},
        {"data": {"values": [{"x":298,"y":80,"t":"1.25V"}]},
         "mark": {"type": "text", "align": "right", "baseline": "middle", "fontSize": 8.3, "fontWeight": "bold", "color": "#000"},
         "encoding": {"x": {"field": "x", "type": "quantitative", "axis": null, "scale": {"domain": [-63, 1074], "nice": false, "zero": false}}, "y": {"field": "y", "type": "quantitative", "axis": null, "scale": {"domain": [0, 180], "nice": false, "zero": false, "reverse": true}}, "text": {"field": "t"}}},
        {"data": {"values": [{"x":895,"y":80,"t":"1.25V"}]},
         "mark": {"type": "text", "align": "left", "baseline": "middle", "fontSize": 8.3, "fontWeight": "bold", "color": "#000"},
         "encoding": {"x": {"field": "x", "type": "quantitative", "axis": null, "scale": {"domain": [-63, 1074], "nice": false, "zero": false}}, "y": {"field": "y", "type": "quantitative", "axis": null, "scale": {"domain": [0, 180], "nice": false, "zero": false, "reverse": true}}, "text": {"field": "t"}}}
       ]},
      {"width": 379, "height": 15, "data": {"values": []}, "mark": "rect", "encoding": {}},
      {"width": 379, "height": 33,
       "data": {"values": [{"line": 1, "text": "Figure 34.\u00a0\u00a0Voltage Reference Levels for AC Measurements"}, {"line": 2, "text": "(Except Output Enable/Disable)"}]},
       "mark": {"type": "text", "align": "left", "baseline": "middle", "font": "Noto Sans", "fontStyle": "italic", "fontSize": 11.2, "dx": 35, "color": "#231f20"},
       "encoding": {"x": {"value": 0}, "y": {"field": "line", "type": "ordinal", "axis": null}, "text": {"field": "text"}}},
      {"width": 379, "height": 12, "data": {"values": []}, "mark": "rect", "encoding": {}},
      {"width": 379, "height": 28, "data": {"values": [{"t": "Output Disable Time"}]}, "mark": {"type": "text", "align": "left", "baseline": "middle", "font": "Noto Sans", "fontWeight": "bold", "fontStyle": "italic", "fontSize": 14, "color": "#231f20"}, "encoding": {"x": {"value": 0}, "text": {"field": "t"}}},
      {"width": 379, "height": 3, "data": {"values": []}, "mark": "rect", "encoding": {}},
      {"width": 379, "height": 104,
       "data": {"values": [
         {"line": 1, "text": "Output pins are considered to be disabled when they stop driv-"},
         {"line": 2, "text": "ing, go into a high impedance state, and start to decay from their"},
         {"line": 3, "text": "output high or low voltage. The time for the voltage on the bus"},
         {"line": 4, "text": "to decay by ΔV is dependent on the capacitive load, CL and the"},
         {"line": 5, "text": "load current, IL. This decay time can be approximated by the fol-"},
         {"line": 6, "text": "lowing equation:"}
       ]},
       "mark": {"type": "text", "align": "left", "baseline": "middle", "font": "Liberation Serif", "fontSize": 14.6, "color": "#231f20"},
       "encoding": {"x": {"value": 0}, "y": {"field": "line", "type": "ordinal", "axis": null}, "text": {"field": "text"}}},
      {"width": 379, "height": 20, "data": {"values": []}, "mark": "rect", "encoding": {}},
      {"width": 379, "height": 26,
       "data": {"values": [{"a": "t", "b": "DECAY", "c": "(C", "d": "L", "e": "ΔV)/I", "f": "L"}]},
       "layer": [
         {"mark": {"type": "text", "align": "left", "baseline": "middle", "font": "Liberation Serif", "fontStyle": "italic", "fontSize": 15, "dx": 122, "color": "#231f20"}, "encoding": {"x": {"value": 0}, "text": {"field": "a"}}},
         {"mark": {"type": "text", "align": "left", "baseline": "middle", "font": "Liberation Serif", "fontStyle": "italic", "fontSize": 11, "dx": 127, "dy": 4, "color": "#231f20"}, "encoding": {"x": {"value": 0}, "text": {"field": "b"}}},
         {"mark": {"type": "text", "align": "left", "baseline": "middle", "font": "Liberation Serif", "fontStyle": "italic", "fontSize": 15, "dx": 187, "color": "#231f20"}, "encoding": {"x": {"value": 0}, "text": {"field": "c"}}},
         {"mark": {"type": "text", "align": "left", "baseline": "middle", "font": "Liberation Serif", "fontStyle": "italic", "fontSize": 11, "dx": 202, "dy": 4, "color": "#231f20"}, "encoding": {"x": {"value": 0}, "text": {"field": "d"}}},
         {"mark": {"type": "text", "align": "left", "baseline": "middle", "font": "Liberation Serif", "fontStyle": "italic", "fontSize": 15, "dx": 209, "color": "#231f20"}, "encoding": {"x": {"value": 0}, "text": {"field": "e"}}},
         {"mark": {"type": "text", "align": "left", "baseline": "middle", "font": "Liberation Serif", "fontStyle": "italic", "fontSize": 11, "dx": 243, "dy": 4, "color": "#231f20"}, "encoding": {"x": {"value": 0}, "text": {"field": "f"}}}
       ]},
      {"width": 379, "height": 17, "data": {"values": []}, "mark": "rect", "encoding": {}},
      {"width": 379, "height": 102,
       "data": {"values": [
         {"line": 1, "seg": 1, "kind": "text", "text": "The output disable time tDIS is the difference between"},
         {"line": 2, "seg": 1, "kind": "text", "text": "tMEASURED_DIS and tDECAY as shown in"},
         {"line": 2, "seg": 2, "kind": "link", "text": "Figure 35"},
         {"line": 2, "seg": 3, "kind": "text", "text": ". The time"},
         {"line": 3, "seg": 1, "kind": "text", "text": "tMEASURED_DIS is the interval from when the reference signal"},
         {"line": 4, "seg": 1, "kind": "text", "text": "switches to when the output voltage decays ΔV from the mea-"},
         {"line": 5, "seg": 1, "kind": "text", "text": "sured output high or output low voltage. tDECAY is calculated"},
         {"line": 6, "seg": 1, "kind": "text", "text": "with test loads CL and IL, and with ΔV equal to 0.4 V."}
       ]},
       "encoding": {"x": {"value": 0}, "y": {"field": "line", "type": "ordinal", "axis": null}, "text": {"field": "text"},
         "color": {"field": "kind", "type": "nominal", "legend": null, "scale": {"domain": ["text", "link"], "range": ["#231f20", "#2424e0"]}}},
       "layer": [
         {"transform": [{"filter": "datum.seg == 1"}], "mark": {"type": "text", "align": "left", "baseline": "middle", "font": "Liberation Serif", "fontSize": 14.6}},
         {"transform": [{"filter": "datum.seg == 2"}], "mark": {"type": "text", "align": "left", "baseline": "middle", "font": "Liberation Serif", "fontSize": 14.6, "dx": 271.8}},
         {"transform": [{"filter": "datum.seg == 3"}], "mark": {"type": "text", "align": "left", "baseline": "middle", "font": "Liberation Serif", "fontSize": 14.6, "dx": 328.2}}
       ]},
      {"width": 379, "height": 30, "data": {"values": []}, "mark": "rect", "encoding": {}},
      {"width": 379, "height": 250,
       "layer": [
        {"data": {"values": [
           {"s":"A","x":215,"y":25},{"s":"A","x":255,"y":25},{"s":"A","x":340,"y":150},{"s":"A","x":700,"y":150},{"s":"A","x":790,"y":25},{"s":"A","x":960,"y":25},
           {"s":"B","x":215,"y":150},{"s":"B","x":255,"y":150},{"s":"B","x":340,"y":25},{"s":"B","x":700,"y":25},{"s":"B","x":790,"y":150},{"s":"B","x":960,"y":150},
           {"s":"W1","x":290,"y":310},{"s":"W1","x":405,"y":310},{"s":"W1","x":445,"y":380},{"s":"W1","x":885,"y":380},{"s":"W1","x":930,"y":325},{"s":"W1","x":1000,"y":325},
           {"s":"W2","x":290,"y":432},{"s":"W2","x":405,"y":432},{"s":"W2","x":445,"y":380},
           {"s":"W3","x":885,"y":380},{"s":"W3","x":930,"y":432},{"s":"W3","x":1000,"y":432}
         ]},
         "mark": {"type": "line", "color": "#000", "strokeWidth": 1.3},
         "encoding": {"x": {"field": "x", "type": "quantitative", "axis": null, "scale": {"domain": [-63, 1074], "nice": false, "zero": false}}, "y": {"field": "y", "type": "quantitative", "axis": null, "scale": {"domain": [0, 750], "nice": false, "zero": false, "reverse": true}}, "detail": {"field": "s"}}},
        {"data": {"values": [
           {"x":297,"y":88,"y2":272},{"x":745,"y":88,"y2":272},{"x":425,"y":195,"y2":485},{"x":405,"y":235,"y2":475},{"x":883,"y":235,"y2":475},{"x":905,"y":195,"y2":485},{"x":405,"y":505,"y2":532},{"x":883,"y":505,"y2":532},{"x":675,"y":452,"y2":610}
         ]},
         "mark": {"type": "rule", "color": "#000", "strokeWidth": 0.9},
         "encoding": {"x": {"field": "x", "type": "quantitative", "axis": null, "scale": {"domain": [-63, 1074], "nice": false, "zero": false}}, "y": {"field": "y", "type": "quantitative", "axis": null, "scale": {"domain": [0, 750], "nice": false, "zero": false, "reverse": true}}, "y2": {"field": "y2"}}},
        {"data": {"values": [
           {"x":297,"x2":425,"y":212},{"x":297,"x2":405,"y":258},{"x":745,"x2":905,"y":212},{"x":745,"x2":883,"y":258},{"x":362,"x2":405,"y":462},{"x":425,"x2":468,"y":462},{"x":838,"x2":883,"y":462},{"x":905,"x2":950,"y":462},
           {"x":415,"x2":436,"y":348},{"x":415,"x2":436,"y":405},{"x":895,"x2":916,"y":352},{"x":897,"x2":918,"y":406}
         ]},
         "mark": {"type": "rule", "color": "#000", "strokeWidth": 0.9},
         "encoding": {"x": {"field": "x", "type": "quantitative", "axis": null, "scale": {"domain": [-63, 1074], "nice": false, "zero": false}}, "x2": {"field": "x2"}, "y": {"field": "y", "type": "quantitative", "axis": null, "scale": {"domain": [0, 750], "nice": false, "zero": false, "reverse": true}}}},
        {"data": {"values": [
           {"x":297,"y":212,"dir":"left"},{"x":425,"y":212,"dir":"right"},{"x":297,"y":258,"dir":"left"},{"x":405,"y":258,"dir":"right"},
           {"x":745,"y":212,"dir":"left"},{"x":905,"y":212,"dir":"right"},{"x":745,"y":258,"dir":"left"},{"x":883,"y":258,"dir":"right"},
           {"x":405,"y":462,"dir":"right"},{"x":425,"y":462,"dir":"left"},{"x":883,"y":462,"dir":"right"},{"x":905,"y":462,"dir":"left"},
           {"x":405,"y":505,"dir":"up"},{"x":883,"y":505,"dir":"up"},{"x":675,"y":452,"dir":"up"}
         ]},
         "mark": {"type": "point", "filled": true, "opacity": 1, "color": "#000", "size": 16},
         "encoding": {"x": {"field": "x", "type": "quantitative", "axis": null, "scale": {"domain": [-63, 1074], "nice": false, "zero": false}}, "y": {"field": "y", "type": "quantitative", "axis": null, "scale": {"domain": [0, 750], "nice": false, "zero": false, "reverse": true}},
           "shape": {"field": "dir", "type": "nominal", "legend": null, "scale": {"domain": ["up","down","left","right"], "range": ["M0,0L-1.1,3.6L1.1,3.6Z","M0,0L-1.1,-3.6L1.1,-3.6Z","M0,0L3.6,-1.1L3.6,1.1Z","M0,0L-3.6,-1.1L-3.6,1.1Z"]}}}},
        {"data": {"values": [
           {"x":142,"y":80,"t":"REFERENCE"},{"x":142,"y":113,"t":"SIGNAL"},
           {"x":400,"y":563,"t":"OUTPUT STOPS"},{"x":400,"y":598,"t":"DRIVING"},
           {"x":885,"y":563,"t":"OUTPUT STARTS"},{"x":885,"y":598,"t":"DRIVING"},
           {"x":665,"y":655,"t":"HIGH IMPEDANCE STATE."},{"x":665,"y":690,"t":"TEST CONDITIONS CAUSE THIS"},{"x":665,"y":722,"t":"VOLTAGE TO BE APPROXIMATELY 1.25V."}
         ]},
         "mark": {"type": "text", "align": "center", "baseline": "middle", "fontSize": 9.2, "fontWeight": "bold", "color": "#000"},
         "encoding": {"x": {"field": "x", "type": "quantitative", "axis": null, "scale": {"domain": [-63, 1074], "nice": false, "zero": false}}, "y": {"field": "y", "type": "quantitative", "axis": null, "scale": {"domain": [0, 750], "nice": false, "zero": false, "reverse": true}}, "text": {"field": "t"}}},
        {"data": {"values": [
           {"x":300,"y":185,"t":"t"},{"x":231,"y":258,"t":"t"},{"x":760,"y":185,"t":"t"},{"x":678,"y":262,"t":"t"},
           {"x":45,"y":305,"t":"V"},{"x":45,"y":440,"t":"V"},{"x":480,"y":355,"t":"V"},{"x":688,"y":355,"t":"− ΔV"},{"x":470,"y":410,"t":"V"},{"x":680,"y":410,"t":"+ ΔV"},
           {"x":800,"y":352,"t":"1.65V"},{"x":800,"y":410,"t":"0.85V"},{"x":480,"y":465,"t":"t"},{"x":757,"y":465,"t":"t"}
         ]},
         "mark": {"type": "text", "align": "left", "baseline": "middle", "fontSize": 9.2, "fontWeight": "bold", "color": "#000"},
         "encoding": {"x": {"field": "x", "type": "quantitative", "axis": null, "scale": {"domain": [-63, 1074], "nice": false, "zero": false}}, "y": {"field": "y", "type": "quantitative", "axis": null, "scale": {"domain": [0, 750], "nice": false, "zero": false, "reverse": true}}, "text": {"field": "t"}}},
        {"data": {"values": [
           {"x":310,"y":192,"t":"MEASURED_DIS"},{"x":241,"y":265,"t":"DIS"},{"x":770,"y":192,"t":"MEASURED_ENA"},{"x":688,"y":269,"t":"ENA"},
           {"x":64,"y":312,"t":"OH (MEASURED)"},{"x":64,"y":447,"t":"OL (MEASURED)"},{"x":499,"y":362,"t":"OH (MEASURED)"},{"x":489,"y":417,"t":"OL (MEASURED)"},
           {"x":490,"y":472,"t":"DECAY"},{"x":767,"y":472,"t":"RAMP"}
         ]},
         "mark": {"type": "text", "align": "left", "baseline": "middle", "fontSize": 7.2, "fontWeight": "bold", "color": "#000"},
         "encoding": {"x": {"field": "x", "type": "quantitative", "axis": null, "scale": {"domain": [-63, 1074], "nice": false, "zero": false}}, "y": {"field": "y", "type": "quantitative", "axis": null, "scale": {"domain": [0, 750], "nice": false, "zero": false, "reverse": true}}, "text": {"field": "t"}}}
       ]},
      {"width": 379, "height": 12, "data": {"values": []}, "mark": "rect", "encoding": {}},
      {"width": 379, "height": 20, "data": {"values": [{"t": "Figure 35.\u00a0\u00a0Output Enable/Disable"}]}, "mark": {"type": "text", "align": "left", "baseline": "middle", "font": "Noto Sans", "fontStyle": "italic", "fontSize": 11.2, "dx": 105, "color": "#231f20"}, "encoding": {"x": {"value": 0}, "text": {"field": "t"}}}
    ]}
  ]},
  {"width": 954, "height": 68, "data": {"values": [{"t": "Rev. C\u00a0\u00a0\u00a0|\u00a0\u00a0\u00a0Page 37 of 48\u00a0\u00a0\u00a0|\u00a0\u00a0\u00a0December 2006"}]}, "mark": {"type": "text", "font": "Noto Sans", "fontSize": 10.8, "dx": 14, "color": "#231f20"}, "encoding": {"text": {"field": "t"}}}
]
}
